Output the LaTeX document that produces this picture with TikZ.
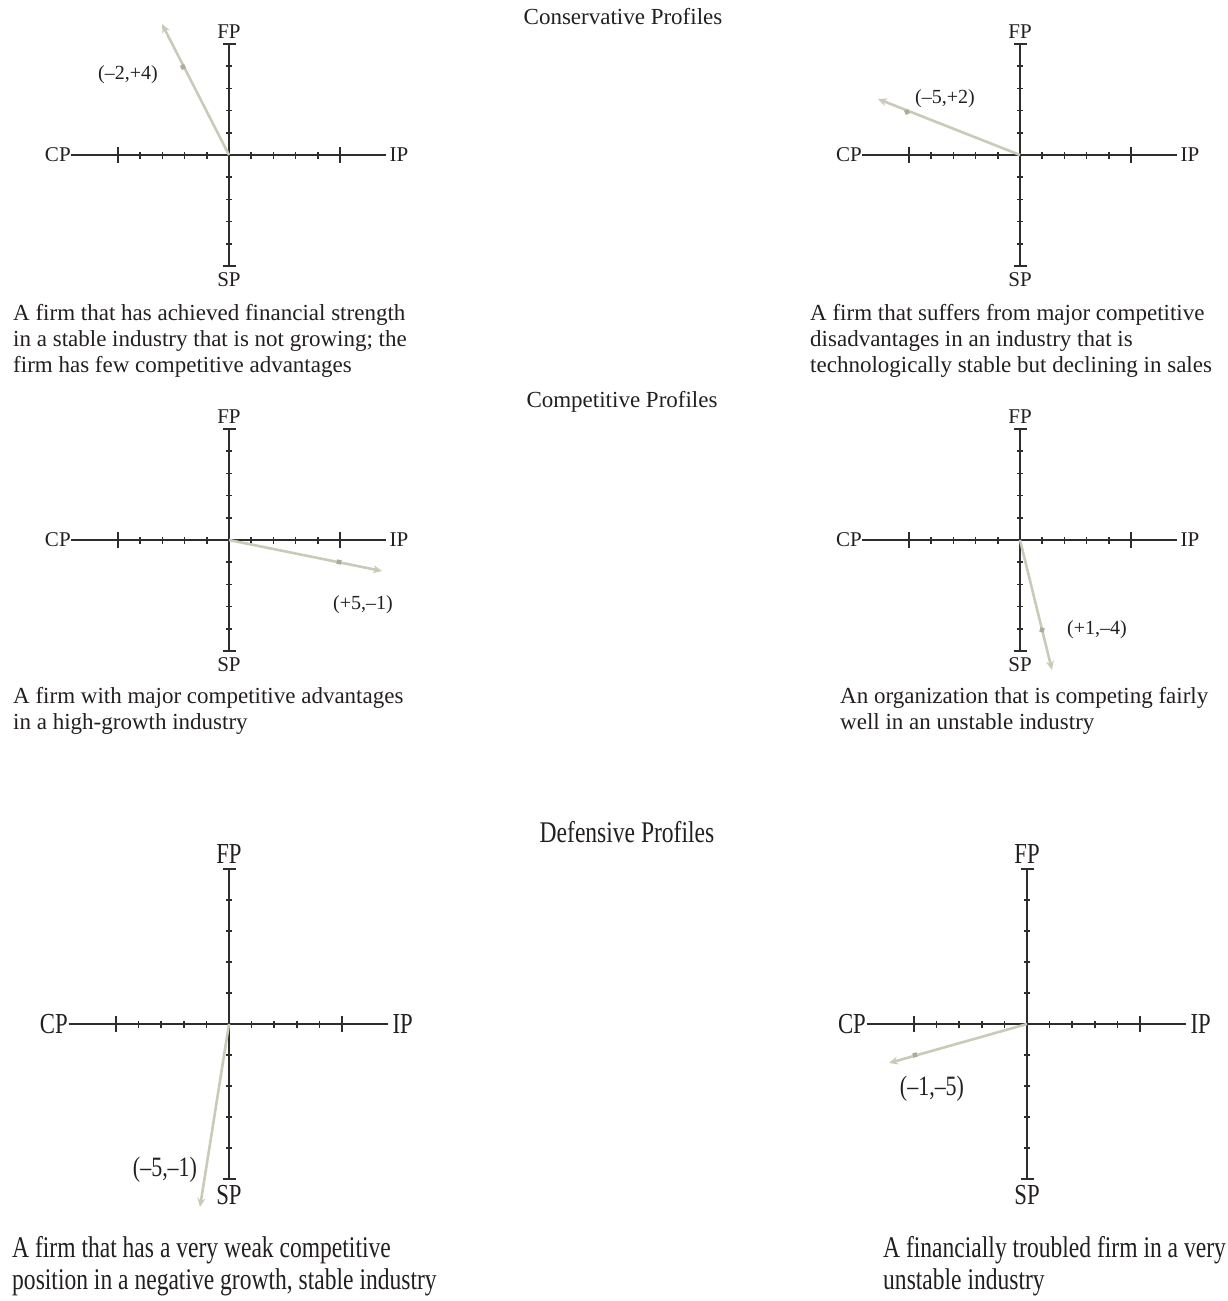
\documentclass[tikz,border=0pt]{standalone}
\usepackage{fontspec}
\setmainfont{Liberation Serif}
\newfontfamily\condfont[FakeStretch=0.785]{Liberation Serif}
\usepackage{tikz}
\usetikzlibrary{arrows.meta,calc,positioning}
\definecolor{axisgray}{RGB}{45,45,45}
\definecolor{vecgray}{RGB}{203,201,183}
\definecolor{inkblack}{RGB}{35,31,32}
\newcommand\axfonttop{\fontsize{21}{24}\selectfont}
\newcommand\axfontbot{\condfont\fontsize{29}{32}\selectfont}

\begin{document}
\begin{tikzpicture}[x=1pt,y=-1pt,
    axisline/.style={draw=axisgray,line width=1.9pt},
    tick/.style={draw=axisgray,line width=1.6pt},
    vec/.style={draw=vecgray,line width=2.6pt,-{Stealth[length=9pt,width=8pt]}},
    vecmark/.style={fill=vecgray!85!black,minimum size=4.5pt,inner sep=0pt},
    axlabel/.style={text=inkblack,inner sep=0pt},
    veclabel/.style={text=inkblack,font=\fontsize{20}{24}\selectfont},
    veclabelc/.style={text=inkblack,font=\condfont\fontsize{28}{32}\selectfont},
    title/.style={text=inkblack,font=\fontsize{23}{26}\selectfont},
    titlec/.style={text=inkblack,font=\condfont\fontsize{30}{32}\selectfont},
    caption/.style={text=inkblack,align=left,anchor=north west,inner sep=0pt,font=\fontsize{23}{26}\selectfont},
    captionc/.style={text=inkblack,align=left,anchor=north west,inner sep=0pt,font=\condfont\fontsize{30}{32}\selectfont}]
  \useasboundingbox (0,0) rectangle (1228,1301);
  %Titles
  \node[title] (tcons) at (623,17) {Conservative Profiles};
  \node[title] (tcomp) at (622,402) {Competitive Profiles};
  \node[titlec] (tdef) at (627,832) {Defensive Profiles};
  %Axes of the six panels
  \foreach \ox/\oy/\h/\v/\n/\ff in {229/155/22.2/22.2/a/\axfonttop, 1020/155/22.2/22.2/b/\axfonttop,
      229/540/22.2/22.2/c/\axfonttop, 1020/540/22.2/22.2/d/\axfonttop,
      229/1024/22.6/31/e/\axfontbot, 1027/1024/22.6/31/f/\axfontbot}{
    \begin{scope}[shift={(\ox pt,-\oy pt)},x=\h pt,y=\v pt]
      \coordinate (o\n) at (0,0);
      \draw[axisline] (-7.1,0) -- (7.05,0);
      \draw[axisline] (0,5) -- (0,-5);
      %Ticks
      \foreach \i in {-4,...,-1,1,2,3,4}{
        \draw[tick] (\i,0) ++(0,-3.5pt) -- ++(0,7pt);
        \draw[tick] (0,\i) ++(-3pt,0) -- ++(6pt,0);
      }
      \foreach \i in {-5,5}{
        \draw[tick] (\i,0) ++(0,-8pt) -- ++(0,16pt);
        \draw[tick] (0,\i) ++(-6.5pt,0) -- ++(13pt,0);
      }
      %Labels
      \node[axlabel,font=\ff,anchor=east,xshift=-0.5pt] (cp\n) at (-7.1,0) {CP};
      \node[axlabel,font=\ff,anchor=west,xshift=4pt] (ip\n) at (7.05,0) {IP};
      \node[axlabel,font=\ff,anchor=south,yshift=5pt] (fp\n) at (0,5) {FP};
      \node[axlabel,font=\ff,anchor=north,yshift=-6pt] (sp\n) at (0,-5) {SP};
    \end{scope}
  }
  %Vectors
  \coordinate (ta) at (162,24);
  \coordinate (tb) at (878,99);
  \coordinate (tc) at (382,571);
  \coordinate (td) at (1052,670);
  \coordinate (te) at (200,1207);
  \coordinate (tf) at (889,1063);
  \draw[vec] (oa) -- (ta);
  \draw[vec] (ob) -- (tb);
  \draw[vec] (oc) -- (tc);
  \draw[vec] (od) -- (td);
  \draw[vec] (oe) -- (te);
  \draw[vec] (of) -- (tf);
  \node[vecmark,rotate=-63] (ma) at (183,67) {};
  \node[vecmark,rotate=23] (mb) at (907,112) {};
  \node[vecmark,rotate=-11] (mc) at (339,562) {};
  \node[vecmark,rotate=76] (md) at (1042,630) {};
  \node[vecmark,rotate=16] (mf) at (915,1055) {};
  \node[veclabel] (la) at (128,75) {(–2,+4)};
  \node[veclabel] (lb) at (945,99) {(–5,+2)};
  \node[veclabel] (lc) at (363,605) {(+5,–1)};
  \node[veclabel] (ld) at (1097,630) {(+1,–4)};
  \node[veclabelc] (le) at (165,1170) {(–5,–1)};
  \node[veclabelc] (lf) at (932,1089) {(–1,–5)};
  %Captions
  \node[caption] (ca) at (13,304) {A firm that has achieved financial strength\\in a stable industry that is not growing; the\\firm has few competitive advantages};
  \node[caption] (cb) at (810,304) {A firm that suffers from major competitive\\disadvantages in an industry that is\\technologically stable but declining in sales};
  \node[caption] (cc) at (13,687) {A firm with major competitive advantages\\in a high-growth industry};
  \node[caption] (cd) at (840,687) {An organization that is competing fairly\\well in an unstable industry};
  \node[captionc] (ce) at (12,1236) {A firm that has a very weak competitive\\position in a negative growth, stable industry};
  \node[captionc] (cf) at (883,1236) {A financially troubled firm in a very\\unstable industry};
\end{tikzpicture}
\end{document}
